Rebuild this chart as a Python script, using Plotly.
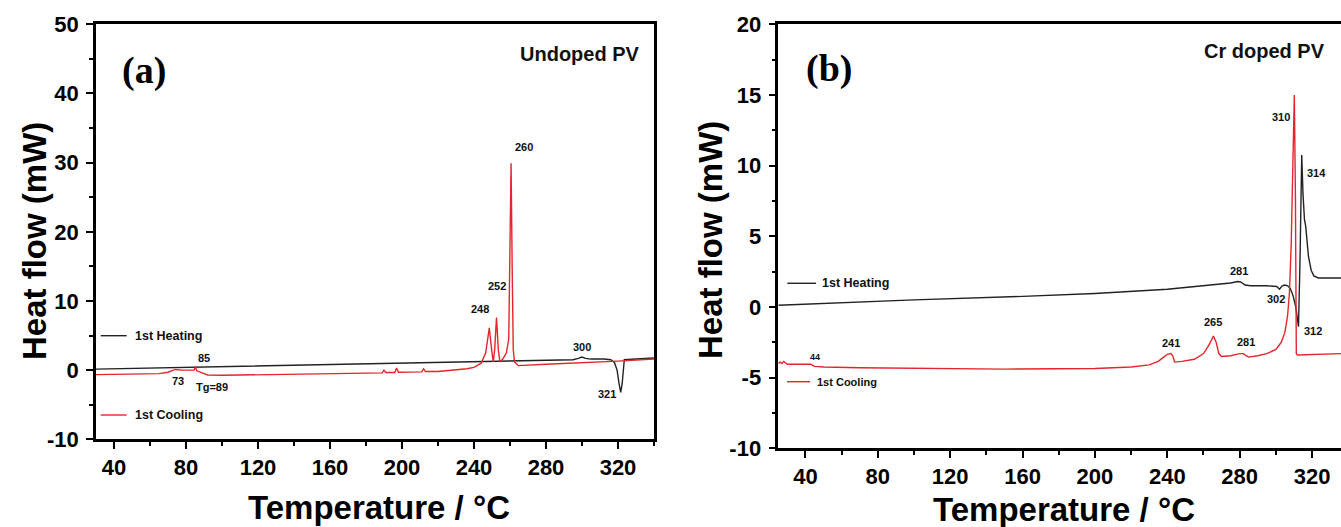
import plotly.graph_objects as go

# ---------------- data ----------------
# Panel (a): Undoped PV
a_heat_T = [30, 60, 100, 150, 200, 250, 280, 295, 298, 300, 302, 305, 312, 316, 318,
            319.5, 320.5, 321.5, 322.3, 323, 323.5, 330, 340]
a_heat_HF = [0.15, 0.3, 0.5, 0.75, 1.0, 1.25, 1.4, 1.5, 1.7, 1.9, 1.7, 1.6, 1.6, 1.5, 1.1,
             0.0, -1.8, -3.2, -2.0, 0.5, 1.5, 1.6, 1.75]

a_cool_T = [30, 50, 65, 70, 74, 78, 82, 84.5, 85.2, 86, 89, 92, 100, 150, 160, 175, 185,
            189, 190, 191, 196, 197, 198, 205, 211, 212, 213, 220, 230, 236, 240, 244,
            246.5, 248.5, 250, 250.7, 251.5, 252.5, 253.5, 254.4, 256, 258, 259.3, 260,
            260.6, 261.2, 261.8, 262.5, 264.6, 280, 300, 320, 340]
a_cool_HF = [-0.65, -0.6, -0.5, -0.3, 0.1, 0.0, -0.05, 0.0, 0.5, -0.1, -0.4, -0.7, -0.75,
             -0.6, -0.5, -0.45, -0.4, -0.4, 0.0, -0.35, -0.35, 0.3, -0.3, -0.3, -0.25, 0.2,
             -0.2, -0.2, 0.0, 0.2, 0.4, 1.0, 2.5, 6.1, 2.5, 1.2, 3.0, 7.6, 3.0, 1.2, 1.6,
             2.5, 4.5, 15.0, 29.9, 15.0, 3.0, 1.2, 0.65, 0.85, 1.05, 1.3, 1.6]

a_labels = ["260", "252", "248", "300", "321", "85", "73", "Tg=89"]
a_label_T = [268, 252.9, 243.3, 300.2, 313.7, 90, 75.4, 94.2]
a_label_HF = [32.2, 12.1, 8.8, 3.4, -3.4, 1.7, -1.5, -2.5]

# Panel (b): Cr doped PV
b_heat_T = [25, 60, 100, 160, 200, 240, 260, 275, 279, 280.5, 283, 286, 295, 299, 300.5,
            302, 303.5, 305, 306.5, 308, 309.5, 311, 312.5, 313.3, 314.3, 315, 315.8,
            316.5, 317, 318, 319.5, 321, 323.5, 330, 336]
b_heat_HF = [0.12, 0.3, 0.5, 0.75, 0.95, 1.25, 1.5, 1.7, 1.8, 1.78, 1.55, 1.5, 1.5, 1.5,
             1.45, 1.25, 1.5, 1.55, 1.5, 1.3, 0.8, 0.0, -1.4, 3.0, 10.75, 8.0, 6.2, 5.7,
             5.0, 3.6, 2.6, 2.2, 2.05, 2.05, 2.05]

b_cool_T = [25, 26, 27, 28, 30, 35, 40, 43, 45, 50, 70, 100, 150, 200, 220, 230, 235,
            238, 240, 242, 243, 244, 248, 255, 260, 263, 265.5, 267, 268.5, 270, 275,
            280, 282, 283.5, 285, 290, 295, 300, 303, 305, 306.5, 307.5, 308.5, 309.3,
            310.2, 310.8, 311.3, 312, 320, 336]
b_cool_HF = [-4.0, -3.9, -4.0, -3.85, -4.05, -4.05, -4.1, -4.05, -4.2, -4.25, -4.3, -4.35,
             -4.4, -4.35, -4.25, -4.1, -3.85, -3.55, -3.35, -3.3, -3.45, -3.9, -3.85,
             -3.7, -3.3, -2.7, -2.05, -2.5, -3.3, -3.5, -3.45, -3.3, -3.3, -3.45, -3.55,
             -3.45, -3.3, -3.0, -2.5, -1.8, -0.6, 1.0, 4.5, 9.5, 15.0, 8.0, -3.3, -3.4,
             -3.35, -3.3]

b_labels = ["310", "314", "281", "302", "312", "265", "241", "281"]
b_label_T = [302.8, 322.7, 279.9, 300.0, 320.5, 265.5, 242.0, 283.6]
b_label_HF = [13.42, 9.45, 2.56, 0.54, -1.68, -1.09, -2.58, -2.46]

x_tick_vals = [40, 80, 120, 160, 200, 240, 280, 320]
x_tick_text = ["40", "80", "120", "160", "200", "240", "280", "320"]
ya_tick_vals = [-10, 0, 10, 20, 30, 40, 50]
ya_tick_text = ["-10", "0", "10", "20", "30", "40", "50"]
yb_tick_vals = [-10, -5, 0, 5, 10, 15, 20]
yb_tick_text = ["-10", "-5", "0", "5", "10", "15", "20"]

# ---------------- styling ----------------
W, H = 1341, 527
BLACK = "#222222"
RED = "#e3262b"
SANS = "Liberation Sans"
SERIF = "Liberation Serif"


def px(x):
    return x / W


def py(y):
    return 1 - y / H


fig = go.Figure()
fig.add_trace(go.Scatter(x=a_heat_T, y=a_heat_HF, mode="lines", line=dict(color=BLACK, width=1.4),
                         xaxis="x", yaxis="y", showlegend=False))
fig.add_trace(go.Scatter(x=a_cool_T, y=a_cool_HF, mode="lines", line=dict(color=RED, width=1.4),
                         xaxis="x", yaxis="y", showlegend=False))
fig.add_trace(go.Scatter(x=b_heat_T, y=b_heat_HF, mode="lines", line=dict(color=BLACK, width=1.4),
                         xaxis="x2", yaxis="y2", showlegend=False))
fig.add_trace(go.Scatter(x=b_cool_T, y=b_cool_HF, mode="lines", line=dict(color=RED, width=1.4),
                         xaxis="x2", yaxis="y2", showlegend=False))

tickfont = dict(family=SANS, size=22, color="black", weight="bold")
common = dict(showgrid=False, zeroline=False, showline=True, linecolor="black", linewidth=2.5,
              ticks="outside", ticklen=7, tickwidth=2.2, tickcolor="black", tickfont=tickfont,
              automargin=False, tickmode="array")
minor_x = dict(dtick=20, tick0=20, ticks="outside", ticklen=4, tickwidth=2, tickcolor="black")

dom_a = [px(96), px(654)]
dom_b = [px(778.3), 1.0]
ydom_a = [py(439.3), py(24.3)]
ydom_b = [py(448.3), py(24.3)]

overlay_common = dict(showline=False, showgrid=False, zeroline=False, showticklabels=False,
                      ticks="inside", tickwidth=2, tickcolor="black", automargin=False)

fig.update_layout(
    template="none",
    width=W, height=H, autosize=False,
    margin=dict(l=0, r=0, t=0, b=0, pad=0),
    paper_bgcolor="white", plot_bgcolor="white",
    xaxis=dict(domain=dom_a, anchor="y", range=[30, 340], tickvals=x_tick_vals, ticktext=x_tick_text,
               mirror=True, ticklabelstandoff=0, minor=minor_x, **common),
    yaxis=dict(domain=ydom_a, anchor="x", range=[-10, 50], tickvals=ya_tick_vals, ticktext=ya_tick_text,
               mirror=True, ticklabelstandoff=3,
               minor=dict(dtick=5, tick0=0, ticks="outside", ticklen=4, tickwidth=2, tickcolor="black"),
               **common),
    xaxis2=dict(domain=dom_b, anchor="y2", range=[25, 336], tickvals=x_tick_vals, ticktext=x_tick_text,
                mirror=True, ticklabelstandoff=0, minor=minor_x, **common),
    yaxis2=dict(domain=ydom_b, anchor="x2", range=[-10, 20], tickvals=yb_tick_vals, ticktext=yb_tick_text,
                mirror=False, ticklabelstandoff=3,
                minor=dict(dtick=2.5, tick0=0, ticks="outside", ticklen=4, tickwidth=2, tickcolor="black"),
                **common),
    # mirror axes with their own tick spacing (top and right)
    xaxis3=dict(overlaying="x", anchor="y", side="top", range=[30, 340], ticklen=7,
                tick0=60.9, dtick=63.2,
                minor=dict(dtick=31.6, ticks="inside", ticklen=4, tickwidth=2, tickcolor="black"),
                **overlay_common),
    yaxis3=dict(overlaying="y", anchor="x", side="right", range=[-10, 50], ticklen=6,
                tick0=-4, dtick=6, **overlay_common),
    xaxis4=dict(overlaying="x2", anchor="y2", side="top", range=[25, 336], ticklen=7,
                tick0=87.9, dtick=63.2,
                minor=dict(dtick=31.6, ticks="inside", ticklen=4, tickwidth=2, tickcolor="black"),
                **overlay_common),
)

ann = []
# axis titles
title_font = dict(family=SANS, size=33, color="black", weight="bold")
ann.append(dict(text="Heat flow (mW)", x=px(35), y=py(241), xref="paper", yref="paper",
                textangle=-90, showarrow=False, font=title_font, xanchor="center", yanchor="middle"))
ann.append(dict(text="Temperature / °C", x=px(379), y=py(507), xref="paper", yref="paper",
                showarrow=False, font=title_font, xanchor="center", yanchor="middle"))
ann.append(dict(text="Heat flow (mW)", x=px(711), y=py(240), xref="paper", yref="paper",
                textangle=-90, showarrow=False, font=title_font, xanchor="center", yanchor="middle"))
ann.append(dict(text="Temperature / °C", x=px(1064), y=py(509), xref="paper", yref="paper",
                showarrow=False, font=title_font, xanchor="center", yanchor="middle"))
# panel letters
ann.append(dict(text="(a)", x=px(144), y=py(70), xref="paper", yref="paper", showarrow=False,
                font=dict(family=SERIF, size=38, color="black", weight="bold"),
                xanchor="center", yanchor="middle"))
ann.append(dict(text="(b)", x=px(829), y=py(68), xref="paper", yref="paper", showarrow=False,
                font=dict(family=SERIF, size=38, color="black", weight="bold"),
                xanchor="center", yanchor="middle"))
# sample names
ann.append(dict(text="Undoped PV", x=px(642), y=py(54), xref="paper", yref="paper", showarrow=False,
                font=dict(family=SANS, size=20, color="#111", weight="bold"),
                xanchor="right", yanchor="middle"))
ann.append(dict(text="Cr doped PV", x=px(1327), y=py(51), xref="paper", yref="paper", showarrow=False,
                font=dict(family=SANS, size=20, color="#111", weight="bold"),
                xanchor="right", yanchor="middle"))

# peak labels
lab_font = dict(family=SANS, size=11, color="#111", weight="bold")
for t, xv, yv in zip(a_labels, a_label_T, a_label_HF):
    ann.append(dict(text=t, x=xv, y=yv, xref="x", yref="y", showarrow=False, font=lab_font,
                    xanchor="center", yanchor="middle"))
for t, xv, yv in zip(b_labels, b_label_T, b_label_HF):
    ann.append(dict(text=t, x=xv, y=yv, xref="x2", yref="y2", showarrow=False, font=lab_font,
                    xanchor="center", yanchor="middle"))
ann.append(dict(text="44", x=45.3, y=-3.57, xref="x2", yref="y2", showarrow=False,
                font=dict(family=SANS, size=9, color="#111", weight="bold"),
                xanchor="center", yanchor="middle"))

# legend texts
leg_font = dict(family=SANS, size=12.5, color="#111", weight="bold")
ann.append(dict(text="1st Heating", x=px(132.7), y=py(335.7), xref="paper", yref="paper",
                showarrow=False, font=leg_font, xanchor="left", yanchor="middle"))
ann.append(dict(text="1st Cooling", x=px(132.7), y=py(415), xref="paper", yref="paper",
                showarrow=False, font=leg_font, xanchor="left", yanchor="middle"))
ann.append(dict(text="1st Heating", x=px(820), y=py(283.3), xref="paper", yref="paper",
                showarrow=False, font=leg_font, xanchor="left", yanchor="middle"))
ann.append(dict(text="1st Cooling", x=px(814.6), y=py(381.7), xref="paper", yref="paper",
                showarrow=False, font=dict(family=SANS, size=11, color="#111", weight="bold"),
                xanchor="left", yanchor="middle"))
fig.update_layout(annotations=ann)

shapes = [
    dict(type="line", xref="paper", yref="paper", x0=px(100.7), x1=px(126.7), y0=py(335.7), y1=py(335.7),
         line=dict(color=BLACK, width=1.4)),
    dict(type="line", xref="paper", yref="paper", x0=px(100.7), x1=px(126.7), y0=py(415), y1=py(415),
         line=dict(color=RED, width=1.4)),
    dict(type="line", xref="paper", yref="paper", x0=px(787.3), x1=px(816), y0=py(283.3), y1=py(283.3),
         line=dict(color=BLACK, width=1.4)),
    dict(type="line", xref="paper", yref="paper", x0=px(787), x1=px(810), y0=py(381.7), y1=py(381.7),
         line=dict(color=RED, width=1.4)),
]
fig.update_layout(shapes=shapes)

fig.write_html("out.html", config={"displayModeBar": False},
               post_script="document.body.style.margin='0px';document.body.style.overflow='hidden';")
